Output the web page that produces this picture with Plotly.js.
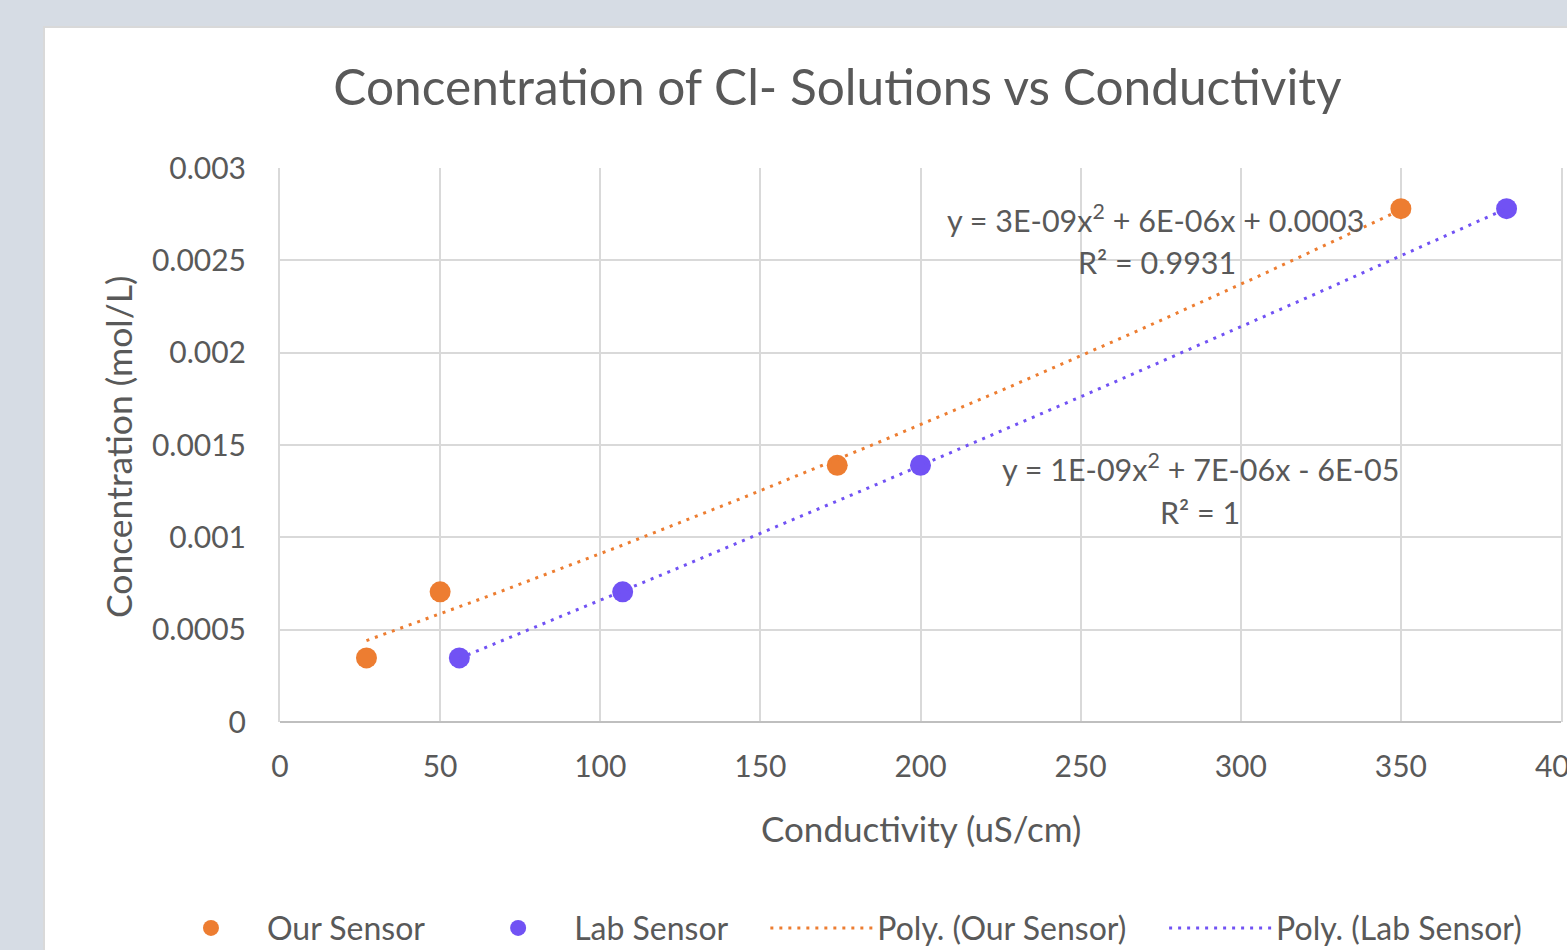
<!DOCTYPE html>
<html>
<head>
<meta charset="utf-8">
<script src="https://cdn.plot.ly/plotly-3.0.1.min.js"></script>
<style>
  html, body { margin: 0; padding: 0; background: #d6dce4; width: 1567px; height: 950px; overflow: hidden; }
  #frame { position: absolute; left: 43px; top: 26px; width: 1524px; height: 924px; background: #d9d9d9; }
  #chart { position: absolute; left: 2px; top: 2px; width: 1522px; height: 922px; background: #ffffff; }
</style>
</head>
<body>
<div id="frame"><div id="chart"></div></div>
<script>
// ---- data ----
const ourSensorX = [27, 50, 174, 350];
const ourSensorY = [0.000347, 0.000705, 0.00139, 0.00278];
const labSensorX = [56, 107, 200, 383];
const labSensorY = [0.000347, 0.000705, 0.00139, 0.00278];
const xTickVals = [0, 50, 100, 150, 200, 250, 300, 350, 400];
const xTickText = ['0', '50', '100', '150', '200', '250', '300', '350', '400'];
const yTickVals = [0, 0.0005, 0.001, 0.0015, 0.002, 0.0025, 0.003];
const yTickText = ['0', '0.0005', '0.001', '0.0015', '0.002', '0.0025', '0.003'];
const seriesNames = ['Our Sensor', 'Lab Sensor', 'Poly. (Our Sensor)', 'Poly. (Lab Sensor)'];
const chartTitle = 'Concentration of Cl- Solutions vs Conductivity';
const xTitle = 'Conductivity (uS/cm)';
const yTitle = 'Concentration (mol/L)';
const ourEquation = 'y = 3E-09x<sup>2</sup> + 6E-06x + 0.0003';
const ourR2 = 'R² = 0.9931';
const labEquation = 'y = 1E-09x<sup>2</sup> + 7E-06x - 6E-05';
const labR2 = 'R² = 1';

// least-squares quadratic fit (Excel "Poly." order 2 trendline)
function quadFit(xs, ys) {
  let S = [0,0,0,0,0], T = [0,0,0];
  for (let i = 0; i < xs.length; i++) {
    let p = 1;
    for (let k = 0; k < 5; k++) { S[k] += p; if (k < 3) T[k] += p * ys[i]; p *= xs[i]; }
  }
  const M = [[S[0],S[1],S[2],T[0]],[S[1],S[2],S[3],T[1]],[S[2],S[3],S[4],T[2]]];
  for (let c = 0; c < 3; c++) {
    let piv = c;
    for (let r = c+1; r < 3; r++) if (Math.abs(M[r][c]) > Math.abs(M[piv][c])) piv = r;
    [M[c], M[piv]] = [M[piv], M[c]];
    for (let r = 0; r < 3; r++) if (r !== c) {
      const f = M[r][c] / M[c][c];
      for (let k = c; k < 4; k++) M[r][k] -= f * M[c][k];
    }
  }
  return [M[0][3]/M[0][0], M[1][3]/M[1][1], M[2][3]/M[2][2]];
}
function trend(xs, ys) {
  const c = quadFit(xs, ys);
  const lo = Math.min(...xs), hi = Math.max(...xs);
  const tx = [], ty = [];
  for (let i = 0; i <= 100; i++) {
    const x = lo + (hi - lo) * i / 100;
    tx.push(x); ty.push(c[0] + c[1]*x + c[2]*x*x);
  }
  return [tx, ty];
}
const [ourTX, ourTY] = trend(ourSensorX, ourSensorY);
const [labTX, labTY] = trend(labSensorX, labSensorY);

const ORANGE = '#ED7D31';
const PURPLE = '#7152F4';
const TXT = '#595959';
const FONT = 'Lato, "Open Sans", sans-serif';
const PAD = '\u00a0\u00a0\u00a0\u00a0';

const traces = [
  { x: ourSensorX, y: ourSensorY, name: seriesNames[0] + PAD, type: 'scatter', mode: 'markers',
    marker: { color: ORANGE, size: 21 } },
  { x: labSensorX, y: labSensorY, name: seriesNames[1] + PAD, type: 'scatter', mode: 'markers',
    marker: { color: PURPLE, size: 21 } },
  { x: ourTX, y: ourTY, name: seriesNames[2] + PAD, type: 'scatter', mode: 'lines',
    line: { color: ORANGE, width: 3, dash: '3px,6px' } },
  { x: labTX, y: labTY, name: seriesNames[3], type: 'scatter', mode: 'lines',
    line: { color: PURPLE, width: 3, dash: '3px,6px' } }
];

const layout = {
  width: 1522, height: 922,
  paper_bgcolor: '#ffffff', plot_bgcolor: '#ffffff',
  margin: { l: 235, r: 6, t: 140, b: 228, autoexpand: false },
  font: { family: FONT, color: TXT, size: 30 },
  title: { text: chartTitle, x: 0.5207, xref: 'container', xanchor: 'center',
           y: 0.9355, yref: 'container', yanchor: 'middle',
           font: { family: FONT, size: 49.6, color: TXT } },
  xaxis: {
    range: [0, 400], tickvals: xTickVals, ticktext: xTickText,
    showgrid: true, gridcolor: '#d9d9d9', gridwidth: 2,
    zeroline: false, showline: false,
    ticks: '', ticklabelstandoff: 24, ticklabeloverflow: 'allow',
    tickfont: { family: FONT, size: 30, color: TXT }
  },
  yaxis: {
    range: [0, 0.003], tickvals: yTickVals, ticktext: yTickText,
    showgrid: true, gridcolor: '#d9d9d9', gridwidth: 2,
    zeroline: true, zerolinecolor: '#bfbfbf', zerolinewidth: 2,
    showline: true, linecolor: '#d9d9d9', linewidth: 2, mirror: true,
    ticks: '', ticklabelstandoff: 26, ticklabeloverflow: 'allow',
    tickfont: { family: FONT, size: 30, color: TXT }
  },
  showlegend: true,
  legend: {
    orientation: 'h', x: -0.0976, xanchor: 'left', xref: 'paper',
    y: -0.372, yanchor: 'middle', yref: 'paper',
    font: { family: FONT, size: 32, color: TXT }, itemwidth: 102,
    traceorder: 'normal'
  },
  annotations: [
    { x: 0.5, y: -0.191, xref: 'paper', yref: 'paper', text: xTitle, showarrow: false,
      xanchor: 'center', yanchor: 'middle', font: { family: FONT, size: 35, color: TXT } },
    { x: -0.1265, y: 0.498, xref: 'paper', yref: 'paper', text: yTitle, showarrow: false,
      textangle: -90, xanchor: 'center', yanchor: 'middle', font: { family: FONT, size: 35.5, color: TXT } },
    { x: 273.5, y: 0.002729, xref: 'x', yref: 'y', text: ourEquation, showarrow: false,
      font: { family: FONT, size: 30.5, color: TXT } },
    { x: 273.9, y: 0.002491, xref: 'x', yref: 'y', text: ourR2, showarrow: false,
      font: { family: FONT, size: 30.5, color: TXT } },
    { x: 287.3, y: 0.001381, xref: 'x', yref: 'y', text: labEquation, showarrow: false,
      font: { family: FONT, size: 30.5, color: TXT } },
    { x: 287.3, y: 0.001137, xref: 'x', yref: 'y', text: labR2, showarrow: false,
      font: { family: FONT, size: 30.5, color: TXT } }
  ]
};

Plotly.newPlot('chart', traces, layout, { displayModeBar: false, staticPlot: true });
</script>
</body>
</html>
